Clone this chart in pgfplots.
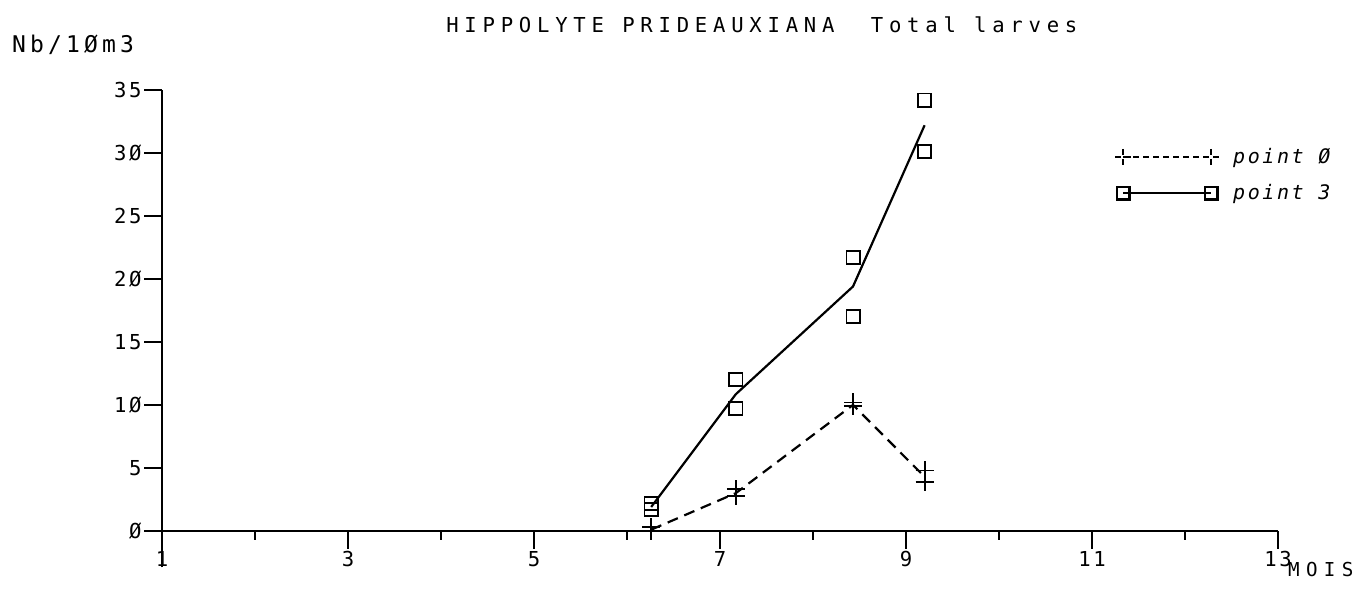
\documentclass[border=0pt]{standalone}
\usepackage{pgfplots}
\pgfplotsset{compat=1.18}
\usepackage{fontspec}
\setmainfont{DejaVu Sans Mono}[LetterSpace=13]
\newfontfamily\titlefont{DejaVu Sans Mono}[LetterSpace=28]
\newfontfamily\labfont{DejaVu Sans Mono}[LetterSpace=18]
\newfontfamily\moisfont{DejaVu Sans Mono}[LetterSpace=33]

\pgfplotsset{
  legzero/.style={legend image code/.code={\draw[##1, mark=+, mark size=4pt, dash pattern=on 3pt off 2pt] plot coordinates {(0pt,0pt) (44pt,0pt)};}},
  legtrois/.style={legend image code/.code={\draw[##1, mark=square, mark size=3.2pt] plot coordinates {(0pt,0pt) (44pt,0pt)};}},
}

% replicate samples (marks) and means (lines)
\pgfplotstableread{
x y
6.26 0.3
6.26 0.0
7.17 3.3
7.17 2.8
8.43 10.2
8.43 9.9
9.20 4.8
9.20 3.9
}\pointzero
\pgfplotstableread{
x y
6.26 2.2
6.26 1.7
7.17 12.0
7.17 9.7
8.43 21.7
8.43 17.0
9.20 34.2
9.20 30.1
}\pointtrois

\begin{document}
\begin{tikzpicture}
\begin{axis}[
  scale only axis, width=558pt, height=238.75pt,
  xmin=1, xmax=13, ymin=-2.9, ymax=35,
  axis x line=middle, axis y line=left,
  axis line style={-, line width=1pt},
  clip=false,
  hide obscured x ticks=false, hide obscured y ticks=false,
  xtick={1,3,...,13}, xticklabels={1,3,5,7,9,11,13},
  minor xtick={2,4,...,12},
  ytick={0,5,...,35}, yticklabels={Ø,5,1Ø,15,2Ø,25,3Ø,35},
  tick align=outside,
  major tick length=9pt, minor tick length=4.5pt,
  tick style={black, line width=0.9pt},
  tick label style={font=\fontsize{10.3}{11}\selectfont},
  xticklabel style={inner sep=1pt},
  yticklabel style={inner sep=1pt},
  legend style={at={(axis cs:11.18,28.25)}, anchor=west, draw=none, fill=none,
    font=\itshape\fontsize{10}{11}\selectfont, row sep=5pt, cells={anchor=west},
    /tikz/every odd column/.append style={column sep=5pt}},
]
\addplot[black, line width=1.1pt, dash pattern=on 5.5pt off 3.5pt, legzero]
  coordinates {(6.26,0.1) (7.17,3.0) (8.43,10.0) (9.2,4.3)};
\addlegendentry{point Ø}
\addplot[black, line width=1.1pt, legtrois]
  coordinates {(6.26,1.9) (7.17,10.85) (8.43,19.4) (9.2,32.2)};
\addlegendentry{point 3}
\addplot[black, only marks, mark=+, mark size=4.5pt, line width=0.9pt, forget plot] table {\pointzero};
\addplot[black, only marks, mark=square, mark size=3.3pt, line width=0.9pt, forget plot] table {\pointtrois};

\node[font=\titlefont\fontsize{10.3}{11}\selectfont] at (axis cs:7.45,40.2) {HIPPOLYTE PRIDEAUXIANA\ \ Total larves};
\node[font=\labfont\fontsize{11.5}{12}\selectfont] at (axis cs:0.043,38.6) {Nb/1Øm3};
\node[font=\moisfont\fontsize{9.6}{10}\selectfont] at (axis cs:13.46,-3.1) {MOIS};
\path (axis cs:-0.742,42.14) rectangle (axis cs:13.903,-4.68);
\end{axis}
\end{tikzpicture}
\end{document}
